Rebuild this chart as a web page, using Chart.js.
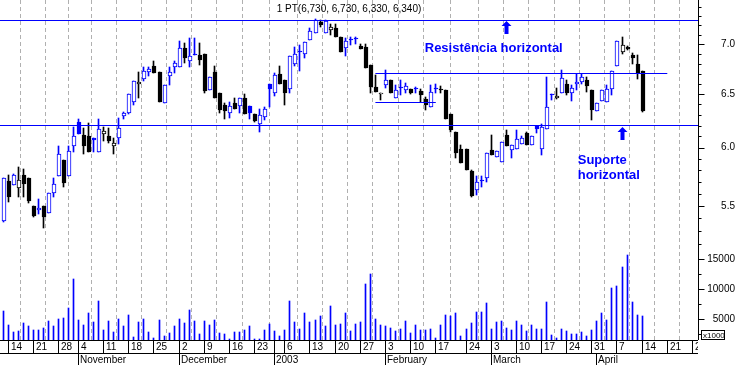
<!DOCTYPE html>
<html>
<head>
<meta charset="utf-8">
<title>PT - grafico diario</title>
<style>
  html, body { margin: 0; padding: 0; background: #ffffff; }
</style>
</head>
<body>
<canvas id="chart" width="738" height="365"></canvas>

<script src="https://cdn.jsdelivr.net/npm/chart.js"></script>
<script>
// cotacoes diarias PT (out/2002 - abr/2003), um valor por sessao
const opens = [5.38,5.71,5.67,5.65,5.76,5.73,5.50,5.47,5.50,5.44, 5.61,5.75,5.89,5.75,6.01,6.23,6.11,6.10,6.09,5.96,
  6.12,6.10,6.01,6.09,6.29,6.32,6.42,6.60,6.65,6.72, 6.78,6.72,6.41,6.68,6.77,6.77,6.96,6.83,6.89,6.89,
  6.90,6.54,6.72,6.51,6.39,6.32,6.41,6.38,6.46,6.38, 6.31,6.21,6.28,6.60,6.51,6.70,6.64,6.55,6.80,6.92,
  6.90,7.04,7.12,7.24,7.12,7.15,7.17,7.08,6.96,7.04, 7.05,6.98,6.97,6.79,6.57,6.50,6.59,6.64,6.46,6.56,
  6.54,6.55,6.55,6.53,6.45,6.37,6.55,6.54,6.54,6.31, 6.14,5.99,5.99,5.79,5.63,5.71,5.73,5.98,5.92,5.87,
  6.11,5.98,5.99,6.03,6.13,6.02,6.20,5.99,6.17,6.49, 6.46,6.51,6.60,6.51,6.60,6.62,6.64,6.54,6.34,6.43,
  6.42,6.55,6.78,6.92,6.97,6.89,6.80,6.73];
const highs = [5.73,5.76,5.77,5.83,5.81,5.73,5.50,5.56,5.50,5.61, 5.73,6.01,5.89,6.01,6.19,6.26,6.18,6.22,6.09,6.26,
  6.19,6.18,6.09,6.27,6.33,6.50,6.63,6.72,6.77,6.77, 6.83,6.72,6.59,6.77,6.83,7.03,7.01,7.07,7.07,7.01,
  6.90,6.67,6.78,6.51,6.41,6.42,6.46,6.46,6.50,6.38, 6.31,6.36,6.37,6.60,6.71,6.78,6.64,6.88,6.97,6.99,
  7.02,7.17,7.27,7.26,7.26,7.21,7.22,7.08,7.07,7.08, 7.08,7.00,7.00,6.79,6.69,6.51,6.74,6.64,6.59,6.64,
  6.61,6.55,6.57,6.55,6.47,6.59,6.60,6.58,6.54,6.31, 6.14,6.02,5.99,5.80,5.75,5.75,5.95,6.11,5.97,6.05,
  6.16,6.02,6.16,6.10,6.14,6.10,6.20,6.21,6.67,6.50, 6.56,6.74,6.64,6.59,6.70,6.70,6.67,6.54,6.41,6.54,
  6.59,6.73,7.03,7.08,6.98,6.91,6.89,6.73];
const lows = [5.37,5.53,5.67,5.57,5.57,5.52,5.41,5.43,5.32,5.44, 5.57,5.75,5.66,5.75,5.96,6.12,5.94,5.96,5.96,5.96,
  6.06,6.04,5.94,6.03,6.26,6.31,6.39,6.46,6.63,6.68, 6.71,6.42,6.41,6.59,6.71,6.77,6.81,6.77,6.89,6.79,
  6.51,6.54,6.46,6.32,6.26,6.27,6.36,6.32,6.31,6.26, 6.23,6.14,6.25,6.37,6.48,6.60,6.39,6.51,6.78,6.73,
  6.86,7.04,7.12,7.18,7.12,7.10,7.08,6.92,6.88,6.99, 7.00,6.95,6.76,6.51,6.52,6.44,6.56,6.51,6.46,6.49,
  6.51,6.50,6.51,6.42,6.35,6.37,6.51,6.51,6.26,6.14, 5.91,5.86,5.80,5.57,5.59,5.66,5.70,5.93,5.92,5.87,
  6.01,5.91,5.99,6.03,6.02,6.02,6.13,5.93,6.17,6.44, 6.45,6.51,6.49,6.43,6.54,6.60,6.52,6.25,6.34,6.43,
  6.42,6.49,6.78,6.90,6.94,6.80,6.65,6.33];
const closes = [5.73,5.57,5.76,5.72,5.68,5.54,5.42,5.48,5.41,5.61, 5.68,5.94,5.69,5.97,6.10,6.12,6.01,5.96,6.07,6.17,
  6.15,6.06,6.04,6.18,6.32,6.50,6.63,6.62,6.73,6.75, 6.71,6.42,6.59,6.72,6.81,6.96,6.86,6.88,6.89,6.84,
  6.53,6.67,6.46,6.35,6.34,6.38,6.36,6.46,6.31,6.32, 6.24,6.30,6.36,6.55,6.69,6.60,6.51,6.88,6.90,6.92,
  7.02,7.14,7.26,7.20,7.25,7.18,7.08,6.92,7.03,7.04, 7.05,6.95,6.76,6.57,6.52,6.51,6.64,6.51,6.54,6.56,
  6.58,6.51,6.55,6.49,6.39,6.52,6.55,6.54,6.26,6.16, 5.95,5.86,5.80,5.58,5.70,5.71,5.95,5.93,5.97,6.05,
  6.01,6.02,6.08,6.09,6.02,6.10,6.17,6.19,6.37,6.49, 6.48,6.66,6.51,6.56,6.62,6.67,6.58,6.35,6.41,6.54,
  6.55,6.73,7.03,6.99,6.95,6.86,6.71,6.34];
// volume (milhares de accoes)
const volumes = [6370,4020,2900,3060,4360,3850,3180,3180,3520,4690, 3850,5030,5200,6880,11750,4860,4020,6040,4520,8050,
  3180,4690,2840,5030,3850,5700,2000,4520,5030,2840, 1800,4860,2170,2680,3850,5030,4360,6540,4690,2510,
  4690,4020,4860,2680,2510,1700,2840,2840,3180,3850, 1600,1670,3180,4190,3010,2170,3180,8050,4520,3350,
  6040,4520,4860,5530,3850,7210,4020,4190,6040,3010, 4190,4520,10910,12420,5030,4020,3850,3520,3010,3350,
  4690,2680,4020,3180,3180,3350,1840,4020,5700,5530, 6040,2170,3350,4360,6200,6200,7720,3350,4520,4690,
  3520,3180,4690,4020,3010,4020,3350,3350,7880,2340, 1840,3350,3010,2510,2510,2840,2170,3180,4690,6040,
  4860,10240,10570,13600,15610,7880,5700,5530];

// eixo das datas: indice da sessao de cada segunda-feira assinalada
const weekDays   = [1,6,11,15,20,25,30,35,40,45,50,56,61,66,71,76,81,86,92,97,102,107,112,117,122,127,132,137];
const weekLabels = ['14','21','28','4','11','18','25','2','9','16','23','6','13','20','27','3','10','17','24','3','10','17','24','31','7','14','21','28'];
const monthDays   = [15,35,54,76,97,118];
const monthLabels = ['November','December','2003','February','March','April'];

// escalas da direita
const priceTicks  = [5.3,5.4,5.5,5.6,5.7,5.8,5.9,6.0,6.1,6.2,6.3,6.4,6.5,6.6,6.7,6.8,6.9,7.0,7.1,7.2,7.3,7.4];
const priceLabels = [5.5,6.0,6.5,7.0];
const volTicks    = [2500,5000,7500,10000,12500,15000,17500];
const volLabels   = [5000,10000,15000];

// linhas de suporte / resistencia
const X_MIN = -0.6, X_MAX = 138.1;
const lineLevels = [7.25, 6.70, 6.42, 6.20];
const lineFrom   = [X_MIN, 74, 74, X_MIN];
const lineTo     = [X_MAX, 132, 86, X_MAX];

// anotacoes
const arrowDays   = [100, 123];
const arrowPrices = [7.25, 6.19];
const noteTexts  = ['Resistência horizontal', 'Suporte', 'horizontal'];
const noteDays   = [83.8, 114.2, 114.2];
const notePrices = [6.96, 5.89, 5.755];

const P_MIN = 4.502, P_MAX = 7.478;
const V_MIN = 1500, V_MAX = 58170;

const BLUE = '#0000ff';
const FONT = '"Liberation Sans", Arial, sans-serif';
const days = closes.map((c, i) => i);

// azul se fechou acima do fecho anterior, preto caso contrario
const colourOf = i => closes[i] > (i > 0 ? closes[i - 1] : opens[i]) ? BLUE : '#000000';
const hollow = i => closes[i] > opens[i];

const last = closes.length - 1;
const title = '1 PT(' + [opens[last], highs[last], lows[last], closes[last]]
  .map(v => v.toFixed(3).replace('.', ',')).join(', ') + ')';

const datasets = [];
lineLevels.forEach((lv, k) => {
  datasets.push({
    type: 'line', order: 1, yAxisID: 'y',
    data: [{x: lineFrom[k], y: lv}, {x: lineTo[k], y: lv}],
    borderColor: BLUE, borderWidth: 1, pointRadius: 0, fill: false
  });
});
datasets.push({
  type: 'bar', order: 2, yAxisID: 'y', grouped: false,
  data: days.map(i => ({x: i, y: [Math.min(opens[i], closes[i]), Math.max(opens[i], closes[i])]})),
  barThickness: 4, minBarLength: 1, borderSkipped: false, borderWidth: 1,
  borderColor: days.map(colourOf),
  backgroundColor: days.map(i => hollow(i) ? '#ffffff' : colourOf(i))
});
datasets.push({
  type: 'bar', order: 3, yAxisID: 'y', grouped: false,
  data: days.map(i => ({x: i, y: [lows[i], highs[i]]})),
  barThickness: 1, minBarLength: 1, borderWidth: 0,
  backgroundColor: days.map(colourOf)
});
datasets.push({
  type: 'bar', order: 4, yAxisID: 'v', grouped: false, base: V_MIN,
  data: volumes.map((v, i) => ({x: i, y: v})),
  barThickness: 1, borderWidth: 0, backgroundColor: BLUE
});

// encaixa as barras e linhas na grelha de pixeis (nitidez como no original)
const snap = {
  id: 'snap',
  afterDatasetsUpdate(chart) {
    chart.data.datasets.forEach((ds, k) => {
      const meta = chart.getDatasetMeta(k);
      meta.data.forEach(el => {
        if (meta.type === 'bar') {
          const col = Math.floor(el.x);
          el.x = ds.barThickness === 1 ? col + 0.5 : col + 1;
          el.y = Math.round(el.y);
          el.base = Math.round(el.base);
          if (Math.abs(el.base - el.y) < 1) el.base = el.y + 1;
        } else {
          el.y = Math.floor(el.y) + 0.5;
        }
      });
    });
  }
};

const painter = {
  id: 'painter',
  afterDatasetsDraw(chart) {
    const {ctx, chartArea: a} = chart;
    const x = chart.scales.x, y = chart.scales.y, v = chart.scales.v;
    const col = d => Math.floor(x.getPixelForValue(d));
    ctx.save();
    ctx.fillStyle = BLUE;
    // setas
    arrowDays.forEach((d, k) => {
      const ax = col(d) + 0.5;
      const ay = Math.round(y.getPixelForValue(arrowPrices[k]));
      ctx.beginPath();
      ctx.moveTo(ax, ay);
      ctx.lineTo(ax + 5, ay + 5);
      ctx.lineTo(ax + 2, ay + 5);
      ctx.lineTo(ax + 2, ay + 13);
      ctx.lineTo(ax - 2, ay + 13);
      ctx.lineTo(ax - 2, ay + 5);
      ctx.lineTo(ax - 5, ay + 5);
      ctx.closePath();
      ctx.fill();
    });
    ctx.font = 'bold 13px ' + FONT;
    ctx.textBaseline = 'middle';
    ctx.textAlign = 'left';
    noteTexts.forEach((t, k) => {
      ctx.fillText(t, x.getPixelForValue(noteDays[k]), y.getPixelForValue(notePrices[k]));
    });

    // titulo
    ctx.fillStyle = '#000000';
    ctx.font = '10px ' + FONT;
    ctx.textAlign = 'center';
    ctx.fillText(title, (a.left + a.right) / 2, 9);

    // eixo da direita
    const rx = a.right + 0.5;
    ctx.strokeStyle = '#000000';
    ctx.lineWidth = 1;
    ctx.beginPath();
    ctx.moveTo(rx, a.top);
    ctx.lineTo(rx, a.bottom);
    priceTicks.forEach(p => {
      const py = Math.round(y.getPixelForValue(p)) + 0.5;
      ctx.moveTo(rx, py);
      ctx.lineTo(rx + (priceLabels.includes(p) ? 6 : 3), py);
    });
    volTicks.forEach(t => {
      const py = Math.round(v.getPixelForValue(t)) + 0.5;
      ctx.moveTo(rx, py);
      ctx.lineTo(rx + (volLabels.includes(t) ? 6 : 3), py);
    });
    ctx.stroke();
    ctx.font = '10px ' + FONT;
    ctx.textAlign = 'right';
    priceLabels.forEach(p => ctx.fillText(p.toFixed(1), a.right + 37, y.getPixelForValue(p)));
    volLabels.forEach(t => ctx.fillText(String(t), a.right + 37, v.getPixelForValue(t)));

    // caixa x1000
    ctx.strokeRect(a.right + 3.5, a.bottom - 9.5, 23, 9);
    ctx.font = '8px ' + FONT;
    ctx.textAlign = 'left';
    ctx.fillText('x1000', a.right + 5, a.bottom - 4.5);

    // faixas das datas
    const rowY = a.bottom + 13;
    ctx.beginPath();
    ctx.rect(0, a.bottom, a.right, chart.height - a.bottom);
    ctx.clip();
    ctx.beginPath();
    ctx.moveTo(0, a.bottom + 0.5);
    ctx.lineTo(a.right, a.bottom + 0.5);
    ctx.moveTo(0, rowY + 0.5);
    ctx.lineTo(a.right, rowY + 0.5);
    weekDays.forEach(d => {
      ctx.moveTo(col(d) + 0.5, a.bottom);
      ctx.lineTo(col(d) + 0.5, rowY);
    });
    monthDays.forEach((d, k) => {
      ctx.moveTo(col(d) + 0.5, monthLabels[k] === '2003' ? a.bottom : rowY);
      ctx.lineTo(col(d) + 0.5, chart.height);
    });
    ctx.stroke();
    ctx.font = '10px ' + FONT;
    weekDays.forEach((d, k) => ctx.fillText(weekLabels[k], col(d) + 3, a.bottom + 7));
    monthDays.forEach((d, k) => ctx.fillText(monthLabels[k], col(d) + 2, rowY + 7));
    ctx.restore();
  }
};

new Chart(document.getElementById('chart'), {
  type: 'bar',
  data: {datasets: datasets},
  options: {
    responsive: false,
    animation: false,
    events: [],
    layout: {padding: {left: 0, top: 0, right: 40, bottom: 25}},
    plugins: {legend: {display: false}, tooltip: {enabled: false}},
    scales: {
      x: {
        type: 'linear', min: X_MIN, max: X_MAX, offset: false,
        afterBuildTicks: s => { s.ticks = weekDays.map(d => ({value: d})); },
        ticks: {display: false},
        grid: {color: '#b0b0b0', lineWidth: 1, drawTicks: false},
        border: {display: false, dash: [4, 3]}
      },
      y: {type: 'logarithmic', position: 'right', display: false, min: P_MIN, max: P_MAX, bounds: 'data'},
      v: {type: 'linear', position: 'right', display: false, min: V_MIN, max: V_MAX, bounds: 'data'}
    }
  },
  plugins: [snap, painter]
});
</script>
</body>
</html>
